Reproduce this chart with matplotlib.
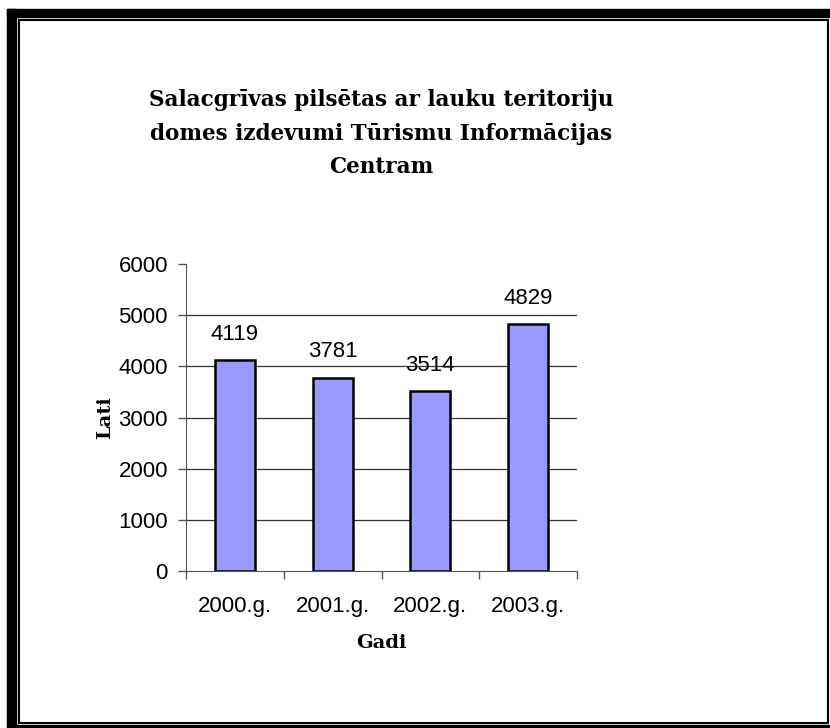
import matplotlib
matplotlib.use('Agg')
import matplotlib.pyplot as plt
from matplotlib.patches import Rectangle

years = ['2000.g.', '2001.g.', '2002.g.', '2003.g.']
values = [4119, 3781, 3514, 4829]
yticks = [0, 1000, 2000, 3000, 4000, 5000, 6000]

title = ('Salacgrīvas pilsētas ar lauku teritoriju\n'
         'domes izdevumi Tūrismu Informācijas\n'
         'Centram')

fig = plt.figure(figsize=(8.3, 7.28), dpi=100)
W, H = 830.0, 728.0

# frame: thick left and top bars, thin inner box, thin line at the bottom
fig.patches.append(Rectangle((7/W, 0), 9/W, 1 - 9/H, transform=fig.transFigure,
                             color='black', zorder=0))
fig.patches.append(Rectangle((7/W, 1 - 17/H), 1 - 7/W, 8/H, transform=fig.transFigure,
                             color='black', zorder=0))
fig.patches.append(Rectangle((18.5/W, 5/H), 809.5/W, 1 - 24.5/H, transform=fig.transFigure,
                             fill=False, ec='black', lw=1.5, zorder=0))
fig.patches.append(Rectangle((16/W, 1.5/H), 1 - 16/W, 1.2/H, transform=fig.transFigure,
                             color='black', zorder=0))

ax = fig.add_axes([186/W, 1 - 571/H, (577 - 186)/W, (571 - 264)/H])
x = range(len(years))
ax.bar(x, values, width=0.41, color='#9999FF', edgecolor='black', linewidth=1.8, zorder=3)
for i, v in enumerate(values):
    ax.text(i, v + 300, str(v), ha='center', va='bottom', fontsize=16,
            family='Liberation Sans')

ax.set_xlim(-0.5, len(years) - 0.5)
ax.set_ylim(0, 6000)
ax.set_yticks(yticks)
ax.set_yticklabels([str(t) for t in yticks], family='Liberation Sans', fontsize=16)
ax.set_xticks(x)
ax.set_xticklabels(years, family='Liberation Sans', fontsize=16)
ax.set_xticks([i - 0.5 for i in range(len(years) + 1)], minor=True)
ax.tick_params(axis='x', which='major', length=0, pad=18)
ax.tick_params(axis='x', which='minor', length=6, color='#555555', width=1)
ax.tick_params(axis='y', length=6, color='#555555', width=1, pad=7)

for t in yticks[1:-1]:
    ax.axhline(t, color='#333333', lw=0.9, zorder=1)

ax.spines['top'].set_visible(False)
ax.spines['right'].set_visible(False)
ax.spines['left'].set_color('#555555')
ax.spines['bottom'].set_color('#555555')

ax.set_xlabel('Gadi', family='DejaVu Serif', fontweight='bold', fontsize=14, labelpad=12)
ax.set_ylabel('Lati', family='DejaVu Serif', fontweight='bold', fontsize=14, labelpad=3)

fig.text(381.5/W, 1 - 89/H, title, ha='center', va='top', family='DejaVu Serif',
         fontweight='bold', fontsize=15.5, linespacing=1.68)

fig.savefig('out.png', dpi=100)
